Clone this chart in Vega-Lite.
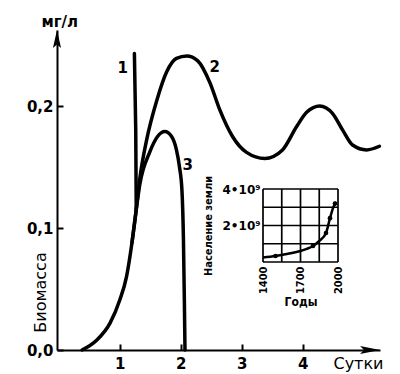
{
  "$schema": "https://vega.github.io/schema/vega-lite/v6.json",
  "width": 323,
  "height": 320,
  "autosize": "none",
  "padding": {"left": 57, "top": 30, "right": 20, "bottom": 24},
  "background": "white",
  "config": {"view": {"stroke": null}, "font": "DejaVu Sans"},
  "resolve": {"scale": {"x": "independent", "y": "independent"}, "axis": {"x": "independent", "y": "independent"}},
  "layer": [
    {
      "layer": [
        {
          "data": {"values": [
            {"s": "2", "day": 0.38, "val": 0}, {"s": "2", "day": 0.62, "val": 0.008}, {"s": "2", "day": 0.84, "val": 0.022},
            {"s": "2", "day": 1.0, "val": 0.041}, {"s": "2", "day": 1.11, "val": 0.06}, {"s": "2", "day": 1.2, "val": 0.088},
            {"s": "2", "day": 1.27, "val": 0.115}, {"s": "2", "day": 1.33, "val": 0.141}, {"s": "2", "day": 1.44, "val": 0.172},
            {"s": "2", "day": 1.61, "val": 0.205}, {"s": "2", "day": 1.77, "val": 0.228}, {"s": "2", "day": 1.93, "val": 0.239},
            {"s": "2", "day": 2.1, "val": 0.241}, {"s": "2", "day": 2.28, "val": 0.237}, {"s": "2", "day": 2.48, "val": 0.219},
            {"s": "2", "day": 2.64, "val": 0.197}, {"s": "2", "day": 2.85, "val": 0.175}, {"s": "2", "day": 3.08, "val": 0.162},
            {"s": "2", "day": 3.38, "val": 0.157}, {"s": "2", "day": 3.67, "val": 0.164}, {"s": "2", "day": 3.9, "val": 0.183},
            {"s": "2", "day": 4.07, "val": 0.195}, {"s": "2", "day": 4.28, "val": 0.2}, {"s": "2", "day": 4.49, "val": 0.194},
            {"s": "2", "day": 4.66, "val": 0.18}, {"s": "2", "day": 4.82, "val": 0.168}, {"s": "2", "day": 5.05, "val": 0.164},
            {"s": "2", "day": 5.26, "val": 0.167},
            {"s": "3", "day": 1.2, "val": 0.088}, {"s": "3", "day": 1.27, "val": 0.115}, {"s": "3", "day": 1.33, "val": 0.136},
            {"s": "3", "day": 1.49, "val": 0.162}, {"s": "3", "day": 1.62, "val": 0.175}, {"s": "3", "day": 1.74, "val": 0.179},
            {"s": "3", "day": 1.85, "val": 0.175}, {"s": "3", "day": 1.93, "val": 0.164}, {"s": "3", "day": 1.98, "val": 0.15},
            {"s": "3", "day": 2.02, "val": 0.131}, {"s": "3", "day": 2.045, "val": 0.09}, {"s": "3", "day": 2.06, "val": 0.04},
            {"s": "3", "day": 2.07, "val": 0}
          ]},
          "mark": {"type": "line", "interpolate": "monotone", "color": "black", "strokeWidth": 3.5, "strokeCap": "round"},
          "encoding": {
            "x": {"field": "day", "type": "quantitative",
                  "scale": {"domain": [-0.03, 5.27], "nice": false, "zero": false},
                  "axis": {"values": [1, 2, 3, 4], "format": "d", "grid": false, "domainColor": "black", "domainWidth": 2,
                           "tickColor": "black", "tickWidth": 2, "tickSize": -6, "labelPadding": 12,
                           "labelFont": "DejaVu Sans", "labelFontWeight": "bold", "labelFontSize": 15, "labelColor": "black",
                           "title": "Сутки", "titleFont": "DejaVu Sans", "titleFontSize": 16, "titleFontWeight": "normal",
                           "titleColor": "black", "titleX": 326, "titleY": 13, "titleAlign": "right", "titleBaseline": "middle"}},
            "y": {"field": "val", "type": "quantitative",
                  "scale": {"domain": [0, 0.2623], "nice": false},
                  "axis": {"values": [0, 0.1, 0.2], "labelExpr": "replace(format(datum.value, '.1f'), '.', ',')",
                           "grid": false, "domainColor": "black", "domainWidth": 2,
                           "tickColor": "black", "tickWidth": 2, "tickSize": -6, "labelPadding": 10,
                           "labelFont": "DejaVu Sans", "labelFontWeight": "bold", "labelFontSize": 15, "labelColor": "black",
                           "title": "Биомасса", "titleFont": "DejaVu Sans", "titleFontSize": 16, "titleFontWeight": "normal",
                           "titleColor": "black", "titleAngle": 270, "titleX": -17, "titleY": 262, "titleAlign": "center", "titleBaseline": "middle"}},
            "detail": {"field": "s"}
          }
        },
        {
          "data": {"values": [
            {"day": 1.27, "val": 0.115}, {"day": 1.262, "val": 0.18}, {"day": 1.24, "val": 0.243}
          ]},
          "mark": {"type": "line", "color": "black", "strokeWidth": 3.5, "strokeCap": "round"},
          "encoding": {
            "x": {"field": "day", "type": "quantitative"},
            "y": {"field": "val", "type": "quantitative"},
            "order": {"field": "val"}
          }
        },
        {
          "data": {"values": [
            {"day": 5.106, "val": 0, "dir": "right"},
            {"day": -0.03, "val": 0.2549, "dir": "up"}
          ]},
          "mark": {"type": "point", "filled": true, "opacity": 1, "color": "black"},
          "encoding": {
            "x": {"field": "day", "type": "quantitative"},
            "y": {"field": "val", "type": "quantitative"},
            "shape": {"field": "dir", "type": "nominal", "legend": null,
                      "scale": {"domain": ["right", "up"], "range": ["M1,0L-1,-0.4L-0.6,0L-1,0.4Z", "M0,-1L-0.45,1L0,0.6L0.45,1Z"]}},
            "size": {"field": "dir", "type": "nominal", "legend": null,
                     "scale": {"domain": ["right", "up"], "range": [400, 324]}}
          }
        },
        {
          "data": {"values": [
            {"label": "1", "day": 1.05, "val": 0.231},
            {"label": "2", "day": 2.56, "val": 0.232},
            {"label": "3", "day": 2.115, "val": 0.152},
            {"label": "мг/л", "day": 0.016, "val": 0.269}
          ]},
          "mark": {"type": "text", "font": "DejaVu Sans", "fontWeight": "bold", "fontSize": 15, "color": "black", "align": "center", "baseline": "middle"},
          "encoding": {
            "x": {"field": "day", "type": "quantitative"},
            "y": {"field": "val", "type": "quantitative"},
            "text": {"field": "label"}
          }
        }
      ]
    },
    {
      "layer": [
        {
          "data": {"values": [
            {"year": 1400, "pop": 250000000}, {"year": 1500, "pop": 330000000}, {"year": 1600, "pop": 450000000},
            {"year": 1700, "pop": 600000000}, {"year": 1750, "pop": 720000000}, {"year": 1800, "pop": 880000000},
            {"year": 1850, "pop": 1150000000}, {"year": 1904, "pop": 1590000000}, {"year": 1936, "pop": 2400000000},
            {"year": 1960, "pop": 2950000000}, {"year": 1984, "pop": 3300000000}
          ]},
          "mark": {"type": "line", "interpolate": "monotone", "color": "black", "strokeWidth": 2.5},
          "encoding": {
            "x": {"field": "year", "type": "quantitative",
                  "scale": {"domain": [1400, 2000], "range": [206, 281], "nice": false, "zero": false},
                  "axis": {"orient": "bottom", "offset": -88, "values": [1400, 1700, 2000], "format": "d",
                           "domain": false, "ticks": false, "grid": false, "labelAngle": 270, "labelAlign": "right", "labelBaseline": "middle",
                           "labelPadding": 4, "labelFont": "DejaVu Sans Condensed", "labelFontWeight": "bold", "labelFontSize": 11,
                           "labelColor": "black", "labelFlush": false, "labelOverlap": false,
                           "title": "Годы", "titleFont": "DejaVu Sans Condensed", "titleFontWeight": "bold", "titleFontSize": 12,
                           "titleColor": "black", "titlePadding": 3}},
            "y": {"field": "pop", "type": "quantitative",
                  "scale": {"domain": [0, 4000000000], "range": [232, 159], "nice": false},
                  "axis": {"orient": "left", "offset": -206, "values": [2000000000, 4000000000],
                           "labelExpr": "datum.value > 3000000000 ? '4•10⁹' : '2•10⁹'",
                           "domain": false, "ticks": false, "grid": false, "labelPadding": 3,
                           "labelFont": "DejaVu Sans", "labelFontWeight": "bold", "labelFontSize": 12, "labelColor": "black",
                           "labelFlush": false, "labelOverlap": false,
                           "title": "Население земли", "titleFont": "DejaVu Sans Condensed", "titleFontWeight": "bold", "titleFontSize": 11,
                           "titleColor": "black", "titlePadding": 9}}
          }
        },
        {
          "data": {"values": [
            {"year": 1500, "pop": 330000000}, {"year": 1800, "pop": 880000000}, {"year": 1904, "pop": 1590000000},
            {"year": 1936, "pop": 2400000000}, {"year": 1976, "pop": 3200000000}
          ]},
          "mark": {"type": "circle", "color": "black", "size": 22, "opacity": 1},
          "encoding": {
            "x": {"field": "year", "type": "quantitative"},
            "y": {"field": "pop", "type": "quantitative"}
          }
        },
        {
          "data": {"values": [
            {"year": 1400}, {"year": 1550}, {"year": 1700}, {"year": 1850}, {"year": 2000}
          ]},
          "mark": {"type": "rule", "color": "black", "strokeWidth": 1.7},
          "encoding": {
            "x": {"field": "year", "type": "quantitative"},
            "y": {"datum": 0},
            "y2": {"datum": 4000000000}
          }
        },
        {
          "data": {"values": [
            {"pop": 0}, {"pop": 1000000000}, {"pop": 2000000000}, {"pop": 3000000000}, {"pop": 4000000000}
          ]},
          "mark": {"type": "rule", "color": "black", "strokeWidth": 1.7},
          "encoding": {
            "y": {"field": "pop", "type": "quantitative"},
            "x": {"datum": 1400},
            "x2": {"datum": 2000}
          }
        }
      ]
    }
  ]
}
